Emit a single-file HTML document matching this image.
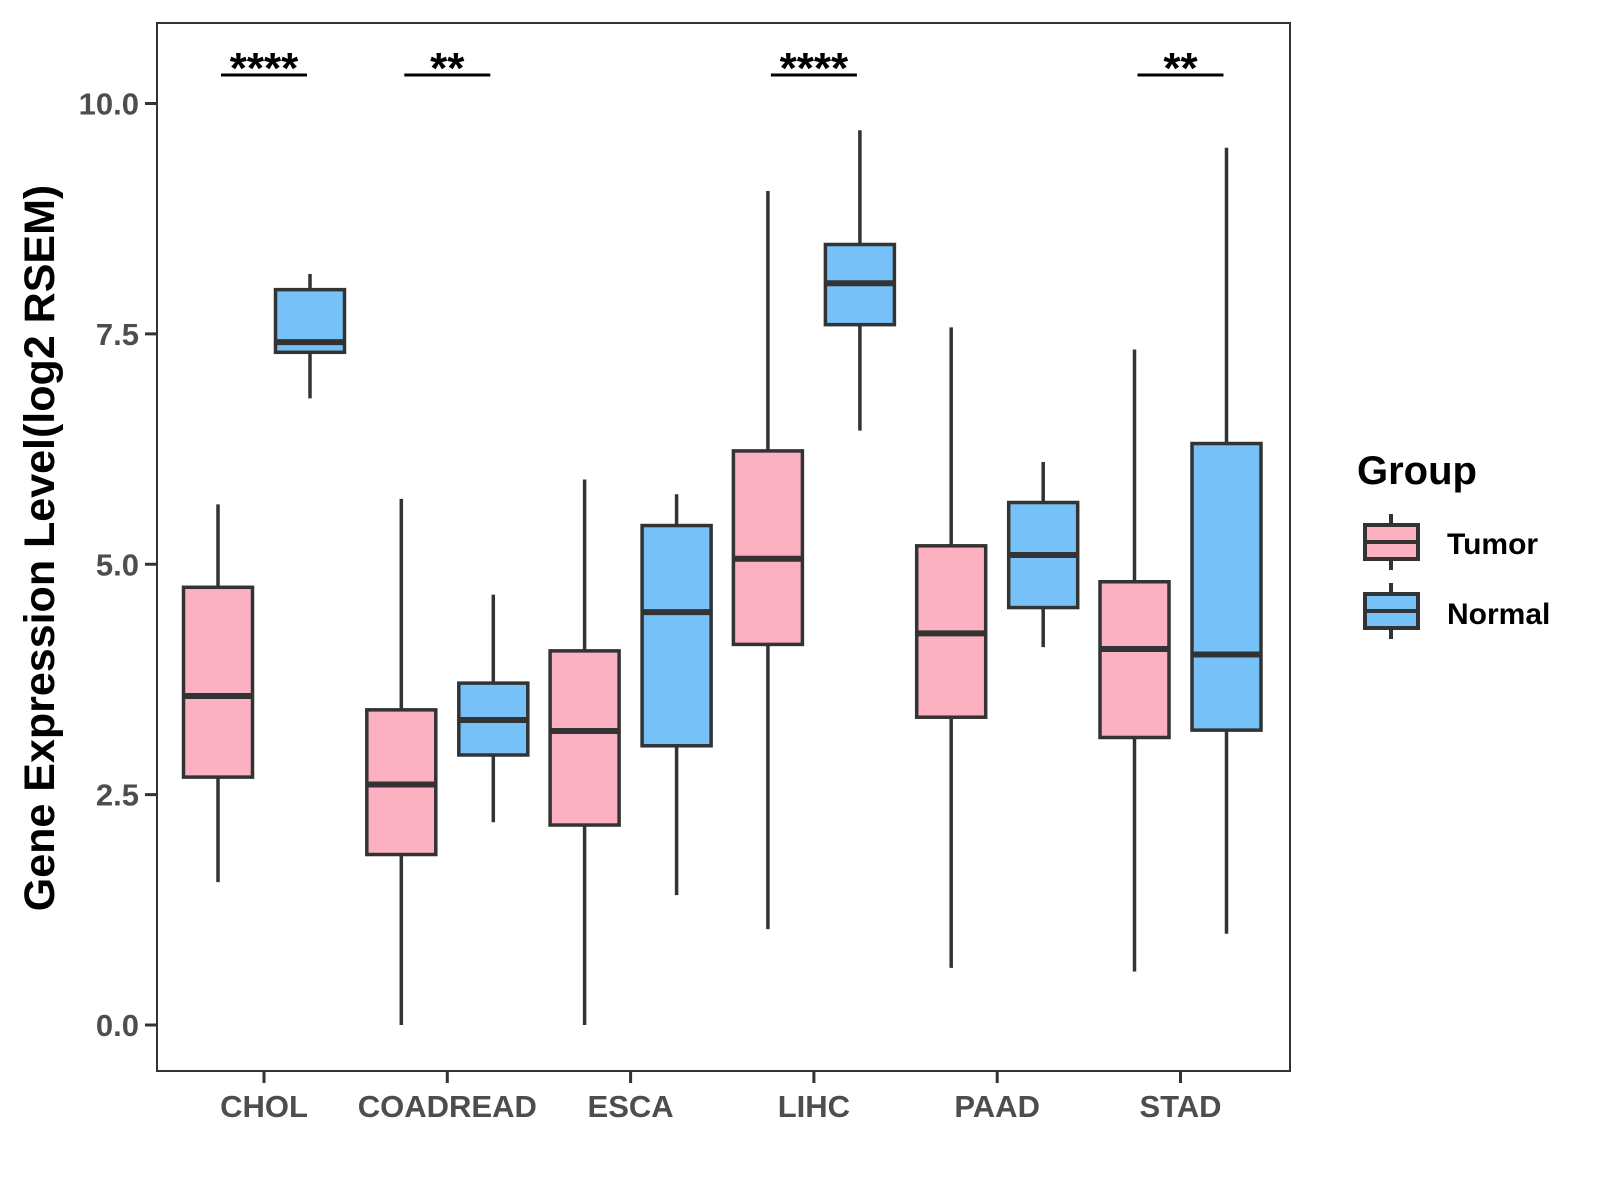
<!DOCTYPE html>
<html><head><meta charset="utf-8"><style>
body{margin:0;background:#fff}
svg{display:block;font-family:"Liberation Sans",Arial,sans-serif;font-weight:bold}
</style></head><body>
<svg id="chart" width="1600" height="1200" viewBox="0 0 1600 1200">
<rect x="0" y="0" width="1600" height="1200" fill="#fff"/>
<g id="marks"></g>
<rect x="157" y="23" width="1133" height="1048" fill="none" stroke="#333" stroke-width="2"/>
<g id="axes"></g>
<text transform="translate(54,548) rotate(-90)" text-anchor="middle" font-size="43" fill="#000">Gene Expression Level(log2 RSEM)</text>
<g>
<text x="1357" y="484" font-size="40" fill="#000">Group</text>
<g>
<line x1="1391" y1="514" x2="1391" y2="570" stroke="#333" stroke-width="4"/>
<rect x="1365" y="525" width="53" height="34" fill="#FBB1C2" stroke="#333" stroke-width="4"/>
<line x1="1365" y1="542" x2="1418" y2="542" stroke="#333" stroke-width="4"/>
<text x="1447" y="554" font-size="30" fill="#000">Tumor</text>
</g>
<g>
<line x1="1391" y1="583" x2="1391" y2="639" stroke="#333" stroke-width="4"/>
<rect x="1365" y="594" width="53" height="34" fill="#76C1F7" stroke="#333" stroke-width="4"/>
<line x1="1365" y1="611" x2="1418" y2="611" stroke="#333" stroke-width="4"/>
<text x="1447" y="624" font-size="30" fill="#000">Normal</text>
</g>
</g>
</svg>
<script>
const categories=["CHOL","COADREAD","ESCA","LIHC","PAAD","STAD"];
const tumorLow=[1.55,0.0,0.0,1.04,0.62,0.58];
const tumorQ1=[2.69,1.85,2.17,4.13,3.34,3.12];
const tumorMed=[3.57,2.61,3.19,5.06,4.25,4.08];
const tumorQ3=[4.75,3.42,4.06,6.23,5.20,4.81];
const tumorHigh=[5.65,5.71,5.92,9.05,7.57,7.33];
const normalLow=[6.80,2.20,1.41,6.45,4.10,0.99];
const normalQ1=[7.30,2.93,3.03,7.60,4.53,3.20];
const normalMed=[7.41,3.31,4.48,8.05,5.10,4.02];
const normalQ3=[7.98,3.71,5.42,8.47,5.67,6.31];
const normalHigh=[8.15,4.67,5.76,9.71,6.11,9.52];
const sigLabels=["****","**","","****","","**"];
const yTicks=[0,2.5,5,7.5,10];
const yTickLabels=["0.0","2.5","5.0","7.5","10.0"];

const NS="http://www.w3.org/2000/svg";
function yS(v){return 1025-v*92.15;}
function xS(i){return 264+i*183.3;}
function mk(tag,attrs,parent){const e=document.createElementNS(NS,tag);for(const k in attrs)e.setAttribute(k,attrs[k]);parent.appendChild(e);return e;}
const marks=document.getElementById('marks'),axes=document.getElementById('axes');
function drawBox(cx,lo,q1,md,q3,hi,fill,name){
  const g=mk('g',{},marks);
  
  
  const w=69;
  mk('line',{x1:cx,x2:cx,y1:yS(lo),y2:yS(hi),stroke:'#333','stroke-width':3.5},g);
  mk('rect',{x:cx-w/2,y:yS(q3),width:w,height:yS(q1)-yS(q3),fill:fill,stroke:'#333','stroke-width':3.5},g);
  mk('line',{x1:cx-w/2,x2:cx+w/2,y1:yS(md),y2:yS(md),stroke:'#333','stroke-width':6},g);
}
categories.forEach((c,i)=>{
  const cx=xS(i);
  drawBox(cx-46,tumorLow[i],tumorQ1[i],tumorMed[i],tumorQ3[i],tumorHigh[i],'#FBB1C2','box-tumor-'+c.toLowerCase());
  drawBox(cx+46,normalLow[i],normalQ1[i],normalMed[i],normalQ3[i],normalHigh[i],'#76C1F7','box-normal-'+c.toLowerCase());
  if(sigLabels[i]){
    const g=mk('g',{},marks);
    
    
    mk('line',{x1:cx-43,x2:cx+43,y1:75,y2:75,stroke:'#000','stroke-width':3},g);
    const t=mk('text',{x:cx,y:83,'text-anchor':'middle','font-size':44,fill:'#000'},g);
    t.textContent=sigLabels[i];
  }
  mk('line',{x1:cx,x2:cx,y1:1071,y2:1083,stroke:'#333','stroke-width':3},axes);
  const t=mk('text',{x:cx,y:1117,'text-anchor':'middle','font-size':31,fill:'#4d4d4d'},axes);
  
  
  t.textContent=c;
});
yTicks.forEach((v,i)=>{
  mk('line',{x1:145,x2:157,y1:yS(v),y2:yS(v),stroke:'#333','stroke-width':3},axes);
  const t=mk('text',{x:139,y:yS(v)+11,'text-anchor':'end','font-size':31,fill:'#4d4d4d'},axes);
  
  
  t.textContent=yTickLabels[i];
});
</script>
</body></html>
